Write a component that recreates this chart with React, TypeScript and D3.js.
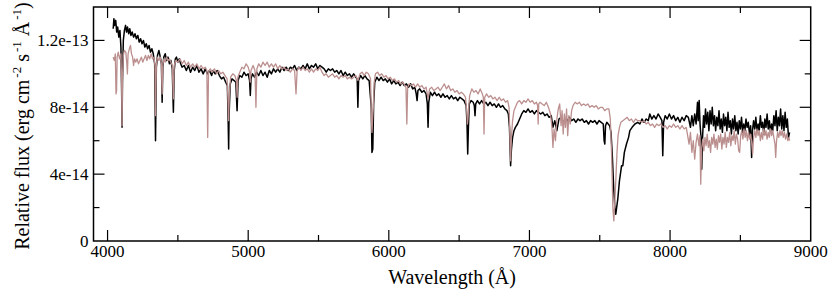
import React, { useEffect, useRef } from "react";
import * as d3 from "d3";

// flux in units of 1e-14 erg cm^-2 s^-1 A^-1
const blackSpec: [number, number][] = [
  [4040, 12.7], [4045, 13.3], [4050, 12.9], [4058, 13.2], [4065, 12.5], [4072, 12.8], [4080, 12.2], [4088, 12.6],
  [4095, 11.6], [4100, 9.0], [4103, 6.8], [4106, 9.5], [4112, 12.0], [4120, 12.6], [4128, 12.9], [4135, 12.5],
  [4142, 12.8], [4150, 12.4], [4158, 12.7], [4166, 12.3], [4175, 12.5], [4185, 12.2], [4195, 12.4], [4205, 12.1],
  [4215, 12.3], [4225, 11.9], [4235, 12.1], [4245, 11.8], [4255, 12.0], [4265, 11.6], [4275, 11.8], [4285, 11.5],
  [4295, 11.7], [4305, 11.3], [4315, 11.5], [4325, 11.2], [4335, 10.6], [4341, 6.0], [4347, 10.4], [4355, 11.1],
  [4365, 11.4], [4375, 11.0], [4383, 10.6], [4388, 8.3], [4393, 10.4], [4400, 11.0], [4410, 11.2], [4420, 10.8],
  [4430, 11.0], [4440, 10.6], [4450, 10.8], [4460, 10.3], [4468, 7.7], [4474, 10.2], [4482, 10.9], [4490, 11.0],
  [4500, 10.7], [4510, 10.9], [4520, 10.6], [4530, 10.4], [4545, 10.5], [4560, 10.2], [4575, 10.5], [4590, 10.1],
  [4605, 10.4], [4620, 10.2], [4635, 10.5], [4650, 10.1], [4665, 10.3], [4680, 10.0], [4695, 10.3], [4710, 10.0],
  [4725, 10.2], [4740, 9.9], [4750, 10.2], [4765, 10.0], [4780, 10.2], [4795, 9.9], [4810, 9.7], [4825, 9.8],
  [4840, 9.5], [4852, 9.3], [4858, 7.0], [4861, 5.5], [4864, 7.5], [4872, 9.4], [4885, 9.7], [4900, 9.6],
  [4912, 9.5], [4921, 7.8], [4928, 9.6], [4940, 9.9], [4955, 9.8], [4970, 10.1], [4985, 9.9], [5000, 10.0],
  [5010, 9.6], [5015, 8.7], [5020, 9.7], [5030, 10.0], [5045, 9.8], [5060, 10.1], [5075, 9.9], [5090, 10.2],
  [5105, 9.9], [5120, 10.1], [5135, 9.8], [5150, 10.2], [5165, 10.0], [5180, 10.3], [5195, 10.1], [5210, 10.3],
  [5225, 10.1], [5240, 10.4], [5255, 10.2], [5270, 10.4], [5285, 10.2], [5300, 10.4], [5315, 10.3], [5330, 10.5],
  [5345, 10.2], [5360, 10.4], [5375, 10.3], [5390, 10.5], [5405, 10.3], [5420, 10.6], [5435, 10.3], [5450, 10.5],
  [5465, 10.4], [5480, 10.6], [5495, 10.3], [5510, 10.5], [5525, 10.4], [5540, 10.3], [5555, 10.1], [5570, 10.3],
  [5585, 10.2], [5600, 10.3], [5615, 10.1], [5630, 10.2], [5645, 10.0], [5660, 10.2], [5675, 9.9], [5690, 10.1],
  [5705, 9.9], [5720, 10.0], [5735, 9.8], [5750, 10.0], [5765, 9.8], [5775, 9.7], [5780, 8.0], [5785, 9.6],
  [5800, 9.9], [5815, 9.7], [5830, 9.9], [5845, 9.7], [5860, 9.6], [5875, 8.0], [5880, 5.3], [5886, 5.5],
  [5892, 8.2], [5900, 9.5], [5915, 9.8], [5930, 9.6], [5945, 9.8], [5960, 9.6], [5975, 9.7], [5990, 9.5],
  [6005, 9.7], [6020, 9.4], [6035, 9.6], [6050, 9.4], [6065, 9.5], [6080, 9.3], [6095, 9.5], [6110, 9.3],
  [6125, 9.4], [6140, 9.2], [6155, 9.4], [6170, 9.1], [6185, 9.2], [6195, 8.8], [6201, 8.4], [6207, 9.0],
  [6220, 9.1], [6235, 8.9], [6250, 9.0], [6265, 8.8], [6274, 8.2], [6279, 6.8], [6284, 8.3], [6295, 8.9],
  [6310, 8.7], [6325, 8.9], [6340, 8.7], [6355, 8.8], [6370, 8.6], [6385, 8.8], [6400, 8.6], [6415, 8.7],
  [6430, 8.5], [6445, 8.7], [6460, 8.5], [6475, 8.6], [6490, 8.4], [6505, 8.6], [6520, 8.5], [6535, 8.4],
  [6550, 8.1], [6556, 7.0], [6561, 5.2], [6566, 6.8], [6572, 8.2], [6585, 8.4], [6600, 8.3], [6608, 8.1],
  [6613, 7.5], [6618, 8.2], [6630, 8.4], [6645, 8.2], [6660, 8.4], [6675, 8.2], [6690, 8.3], [6705, 8.1],
  [6720, 8.3], [6735, 8.1], [6750, 8.2], [6765, 8.0], [6780, 8.2], [6795, 8.0], [6810, 8.1], [6825, 7.9],
  [6840, 7.8], [6850, 7.6], [6858, 6.8], [6866, 4.5], [6872, 5.5], [6880, 6.2], [6890, 6.6], [6900, 6.8],
  [6915, 7.0], [6930, 7.3], [6945, 7.6], [6960, 7.8], [6975, 7.7], [6990, 7.9], [7005, 7.7], [7020, 7.8],
  [7035, 7.6], [7050, 7.8], [7065, 7.7], [7080, 7.6], [7095, 7.7], [7110, 7.5], [7125, 7.6], [7140, 7.4],
  [7155, 7.5], [7167, 6.8], [7180, 7.2], [7195, 6.6], [7210, 7.3], [7225, 7.4], [7240, 7.1], [7255, 7.3],
  [7270, 7.2], [7285, 7.4], [7300, 7.2], [7315, 7.3], [7330, 7.1], [7345, 7.3], [7360, 7.2], [7375, 7.3],
  [7390, 7.1], [7405, 7.2], [7420, 7.0], [7435, 7.2], [7450, 7.1], [7465, 7.2], [7480, 7.0], [7495, 7.2],
  [7510, 7.1], [7525, 7.0], [7531, 6.0], [7536, 5.8], [7541, 6.9], [7550, 7.1], [7560, 7.0], [7570, 6.9],
  [7580, 6.5], [7590, 5.0], [7600, 3.0], [7608, 1.9], [7614, 1.6], [7620, 2.0], [7628, 2.5], [7640, 3.6],
  [7655, 4.5], [7664, 4.5], [7675, 5.3], [7690, 5.8], [7705, 6.2], [7714, 6.6], [7730, 6.8], [7750, 7.0],
  [7770, 7.1], [7785, 7.0], [7800, 7.3], [7815, 7.1], [7830, 7.3], [7845, 7.2], [7856, 7.6], [7870, 7.3],
  [7885, 7.5], [7900, 7.3], [7915, 7.6], [7930, 7.4], [7942, 7.2], [7948, 5.1], [7954, 7.1], [7965, 7.5],
  [7980, 7.3], [7995, 7.6], [8010, 7.3], [8025, 7.5], [8040, 7.2], [8055, 7.4], [8070, 7.1], [8085, 7.4],
  [8100, 7.2], [8115, 7.5], [8130, 7.4], [8145, 6.8], [8155, 7.5], [8165, 6.9], [8175, 7.6], [8185, 7.0],
  [8195, 8.3], [8200, 7.2], [8207, 8.4], [8213, 7.0], [8220, 6.2], [8225, 4.3], [8230, 6.0], [8238, 7.5],
  [8245, 6.8], [8252, 7.9], [8260, 7.0], [8268, 7.7], [8276, 6.6], [8284, 7.8], [8292, 7.0], [8300, 8.0],
  [8308, 6.9], [8316, 7.5], [8324, 6.6], [8332, 7.4], [8340, 6.9], [8348, 7.8], [8356, 6.7], [8364, 7.3],
  [8372, 6.5], [8380, 7.6], [8388, 6.9], [8396, 7.4], [8404, 6.6], [8412, 7.7], [8420, 6.8], [8428, 7.2],
  [8436, 6.4], [8444, 7.3], [8452, 6.7], [8460, 7.5], [8468, 6.6], [8476, 7.1], [8484, 6.4], [8492, 7.2],
  [8500, 6.7], [8508, 7.4], [8516, 6.5], [8524, 7.0], [8532, 6.6], [8540, 7.3], [8548, 6.8], [8556, 7.1],
  [8566, 6.3], [8573, 6.9], [8580, 5.0], [8586, 6.6], [8594, 7.2], [8602, 6.7], [8610, 7.4], [8618, 6.5],
  [8626, 7.0], [8634, 6.6], [8642, 7.5], [8650, 6.8], [8658, 7.1], [8666, 6.4], [8674, 7.3], [8682, 6.8],
  [8690, 7.6], [8698, 6.7], [8706, 7.2], [8714, 6.5], [8722, 7.0], [8730, 6.6], [8738, 7.5], [8746, 6.9],
  [8754, 7.8], [8762, 6.6], [8770, 7.4], [8778, 6.9], [8786, 7.9], [8794, 6.7], [8802, 7.5], [8810, 6.6],
  [8818, 7.7], [8826, 6.8], [8834, 7.3], [8842, 6.2], [8850, 6.5],
];

const pinkSpec: [number, number][] = [
  [4040, 11.0], [4048, 10.8], [4055, 11.2], [4060, 8.8], [4064, 9.0], [4068, 11.0], [4076, 11.3], [4085, 10.9],
  [4095, 11.2], [4100, 9.5], [4103, 6.9], [4106, 9.8], [4112, 11.1], [4120, 11.4], [4130, 11.3], [4137, 10.6],
  [4141, 10.0], [4146, 11.2], [4155, 11.5], [4163, 11.7], [4170, 11.2], [4178, 11.0], [4185, 10.5], [4192, 10.9],
  [4200, 10.7], [4210, 10.9], [4220, 10.6], [4230, 10.8], [4240, 11.0], [4250, 10.7], [4260, 10.9], [4270, 11.1],
  [4280, 10.8], [4290, 11.1], [4300, 10.9], [4310, 11.2], [4320, 10.9], [4330, 11.0], [4337, 10.5], [4341, 7.5],
  [4347, 10.6], [4355, 11.0], [4365, 10.8], [4375, 11.0], [4383, 10.6], [4388, 8.8], [4393, 10.5], [4400, 10.9],
  [4410, 10.7], [4420, 11.0], [4430, 10.8], [4440, 10.9], [4450, 10.7], [4460, 10.5], [4468, 8.5], [4474, 10.5],
  [4485, 10.8], [4500, 10.7], [4515, 10.9], [4530, 10.6], [4545, 10.8], [4560, 10.5], [4575, 10.7], [4590, 10.4],
  [4605, 10.6], [4620, 10.4], [4635, 10.6], [4650, 10.3], [4665, 10.5], [4680, 10.3], [4695, 10.4], [4706, 10.2],
  [4712, 6.2], [4718, 10.1], [4730, 10.3], [4745, 10.1], [4760, 10.3], [4775, 10.0], [4790, 10.2], [4805, 10.0],
  [4820, 10.1], [4835, 9.9], [4850, 9.7], [4856, 8.5], [4861, 7.2], [4866, 8.8], [4875, 9.8], [4890, 10.0],
  [4905, 9.9], [4916, 9.6], [4921, 8.6], [4926, 9.8], [4940, 10.1], [4955, 10.4], [4970, 10.3], [4985, 10.6],
  [5000, 10.4], [5010, 10.1], [5015, 9.5], [5020, 10.2], [5035, 10.5], [5048, 10.2], [5055, 8.0], [5062, 10.3],
  [5075, 10.6], [5090, 10.4], [5105, 10.7], [5120, 10.5], [5135, 10.7], [5150, 10.4], [5165, 10.6], [5180, 10.4],
  [5195, 10.6], [5210, 10.3], [5225, 10.5], [5240, 10.3], [5255, 10.4], [5270, 10.2], [5285, 10.3], [5300, 10.1],
  [5315, 10.3], [5330, 10.2], [5340, 8.8], [5348, 10.2], [5360, 10.4], [5375, 10.2], [5390, 10.4], [5405, 10.2],
  [5420, 10.3], [5435, 10.1], [5450, 10.3], [5465, 10.1], [5480, 10.3], [5495, 10.2], [5510, 10.4], [5525, 10.1],
  [5540, 9.9], [5555, 10.0], [5570, 9.8], [5585, 9.9], [5600, 10.0], [5615, 9.8], [5630, 9.9], [5645, 9.7],
  [5660, 9.9], [5675, 9.8], [5690, 9.9], [5705, 9.7], [5720, 9.8], [5735, 9.7], [5750, 9.8], [5765, 9.9],
  [5780, 9.6], [5795, 10.0], [5810, 10.1], [5825, 9.9], [5840, 10.1], [5855, 10.0], [5870, 9.7], [5876, 7.5],
  [5880, 6.5], [5884, 7.2], [5890, 8.0], [5896, 9.5], [5905, 10.0], [5920, 10.1], [5935, 9.9], [5950, 10.0],
  [5965, 9.8], [5980, 9.9], [5995, 9.7], [6010, 9.8], [6025, 9.6], [6040, 9.7], [6055, 9.5], [6070, 9.6],
  [6085, 9.4], [6100, 9.5], [6115, 9.3], [6122, 9.2], [6128, 7.0], [6134, 9.2], [6145, 9.4], [6160, 9.3],
  [6175, 9.4], [6190, 9.2], [6205, 9.4], [6220, 9.2], [6235, 9.3], [6250, 9.1], [6265, 9.2], [6279, 8.5],
  [6290, 9.1], [6305, 9.2], [6320, 9.0], [6335, 9.1], [6350, 9.2], [6365, 9.0], [6380, 9.2], [6395, 9.4],
  [6410, 9.1], [6425, 9.3], [6440, 9.0], [6455, 9.1], [6470, 8.9], [6485, 9.0], [6500, 8.8], [6515, 8.9],
  [6530, 8.8], [6545, 8.6], [6552, 8.0], [6559, 7.0], [6563, 7.3], [6568, 8.0], [6575, 8.7], [6590, 9.1],
  [6605, 8.9], [6620, 9.0], [6635, 8.8], [6650, 9.1], [6665, 8.8], [6672, 8.6], [6677, 6.4], [6682, 8.6],
  [6695, 8.8], [6710, 8.6], [6725, 8.7], [6740, 8.5], [6755, 8.6], [6770, 8.4], [6785, 8.6], [6800, 8.4],
  [6815, 8.5], [6830, 8.3], [6845, 8.4], [6855, 8.0], [6862, 6.0], [6866, 4.8], [6872, 6.2], [6880, 7.2],
  [6890, 7.8], [6900, 8.0], [6915, 8.3], [6930, 8.4], [6945, 8.2], [6960, 8.4], [6975, 8.3], [6990, 8.5],
  [7005, 8.3], [7020, 8.4], [7035, 8.2], [7050, 8.3], [7058, 8.1], [7062, 7.0], [7066, 8.2], [7075, 8.3],
  [7090, 8.2], [7105, 8.1], [7120, 8.3], [7135, 8.0], [7150, 7.6], [7160, 6.8], [7167, 5.6], [7175, 6.7],
  [7185, 6.0], [7195, 7.3], [7205, 7.9], [7215, 8.2], [7225, 6.9], [7232, 7.8], [7240, 6.4], [7248, 7.6],
  [7256, 6.8], [7264, 7.9], [7272, 6.3], [7280, 7.5], [7290, 7.0], [7300, 7.8], [7310, 8.1], [7325, 8.3],
  [7340, 8.2], [7355, 8.3], [7370, 8.1], [7385, 8.2], [7400, 8.1], [7415, 8.2], [7430, 8.0], [7445, 8.1],
  [7460, 8.0], [7475, 8.1], [7490, 7.9], [7505, 8.0], [7520, 8.0], [7535, 7.8], [7550, 7.9], [7565, 7.9],
  [7575, 7.3], [7585, 5.0], [7593, 2.0], [7600, 1.2], [7606, 2.2], [7614, 3.6], [7622, 5.2], [7630, 6.3],
  [7640, 6.8], [7650, 7.1], [7664, 7.2], [7680, 7.3], [7695, 7.4], [7710, 7.2], [7725, 7.3], [7740, 7.1],
  [7755, 7.3], [7770, 7.2], [7785, 7.2], [7800, 7.1], [7815, 7.2], [7830, 7.0], [7845, 7.1], [7860, 6.9],
  [7875, 7.0], [7890, 6.8], [7905, 7.0], [7920, 6.9], [7935, 7.0], [7950, 6.8], [7965, 6.9], [7980, 6.7],
  [7995, 6.9], [8010, 6.8], [8025, 7.0], [8040, 6.8], [8055, 6.9], [8070, 6.7], [8085, 6.9], [8100, 6.7],
  [8115, 6.8], [8125, 6.3], [8135, 5.8], [8145, 6.5], [8155, 5.3], [8165, 6.0], [8175, 4.9], [8185, 5.9],
  [8195, 6.4], [8205, 5.7], [8212, 6.3], [8218, 3.4], [8224, 5.5], [8232, 6.1], [8240, 5.4], [8248, 6.2],
  [8256, 5.7], [8264, 6.4], [8272, 5.6], [8280, 6.0], [8288, 5.3], [8296, 6.2], [8304, 5.8], [8312, 6.4],
  [8320, 5.6], [8328, 6.1], [8336, 5.5], [8344, 6.3], [8352, 5.9], [8360, 6.4], [8368, 5.5], [8376, 6.2],
  [8384, 5.8], [8392, 6.5], [8400, 5.6], [8408, 6.2], [8416, 5.9], [8424, 6.5], [8432, 5.7], [8440, 6.3],
  [8448, 6.0], [8456, 6.6], [8464, 5.8], [8472, 6.4], [8480, 6.1], [8488, 5.4], [8495, 5.3], [8502, 6.3],
  [8510, 6.6], [8518, 6.1], [8526, 6.7], [8534, 6.2], [8542, 6.6], [8550, 6.0], [8558, 6.5], [8566, 6.1],
  [8574, 6.4], [8580, 5.9], [8587, 5.2], [8594, 6.2], [8602, 6.6], [8610, 6.2], [8618, 6.7], [8626, 6.3],
  [8634, 6.6], [8642, 6.0], [8650, 6.5], [8658, 6.1], [8666, 6.7], [8674, 6.3], [8682, 6.6], [8690, 6.1],
  [8698, 6.5], [8706, 6.2], [8714, 6.7], [8722, 6.3], [8730, 6.6], [8738, 6.2], [8746, 5.8], [8751, 5.0],
  [8757, 6.0], [8765, 6.5], [8773, 6.2], [8781, 6.6], [8789, 6.3], [8797, 6.6], [8805, 6.2], [8813, 6.5],
  [8821, 6.1], [8829, 6.4], [8837, 6.0], [8845, 6.2], [8850, 6.0],
];

const xMajorTicks = [4000, 5000, 6000, 7000, 8000, 9000];
const xMinorTicks = [4500, 5500, 6500, 7500, 8500];
const yMajorTicks = [0, 4, 8, 12];
const yMinorTicks = [2, 6, 10];
const yTickLabels = ["0", "4e-14", "8e-14", "1.2e-13"];

const W = 830;
const H = 291;

export default function App() {
  const svgRef = useRef<SVGSVGElement>(null);

  useEffect(() => {
    const margin = { top: 7, right: 19.3, bottom: 50, left: 93.5 };
    const x0 = margin.left, x1 = W - margin.right;
    const y0 = H - margin.bottom, y1 = margin.top;
    const font = "'Liberation Serif', 'Times New Roman', serif";

    const svg = d3.select(svgRef.current);
    svg.selectAll("*").remove();

    const x = d3.scaleLinear().domain([3900, 9000]).range([x0, x1]);
    const y = d3.scaleLinear().domain([0, 14]).range([y0, y1]);

    const line = d3.line<[number, number]>()
      .x(d => x(d[0]))
      .y(d => y(d[1]));

    svg.append("path")
      .datum(blackSpec)
      .attr("d", line)
      .attr("fill", "none")
      .attr("stroke", "#000")
      .attr("stroke-width", 1.5)
      .attr("stroke-linejoin", "round");

    svg.append("path")
      .datum(pinkSpec)
      .attr("d", line)
      .attr("fill", "none")
      .attr("stroke", "#bc8f8f")
      .attr("stroke-width", 1.3)
      .attr("stroke-linejoin", "round");

    // frame
    svg.append("rect")
      .attr("x", x0).attr("y", y1)
      .attr("width", x1 - x0).attr("height", y0 - y1)
      .attr("fill", "none").attr("stroke", "#000").attr("stroke-width", 1.5);

    const ticks = svg.append("g").attr("stroke", "#000").attr("stroke-width", 1.2);
    const addX = (vals: number[], len: number) => {
      vals.forEach(v => {
        ticks.append("line").attr("x1", x(v)).attr("x2", x(v)).attr("y1", y0).attr("y2", y0 - len);
        ticks.append("line").attr("x1", x(v)).attr("x2", x(v)).attr("y1", y1).attr("y2", y1 + len);
      });
    };
    const addY = (vals: number[], len: number) => {
      vals.forEach(v => {
        ticks.append("line").attr("y1", y(v)).attr("y2", y(v)).attr("x1", x0).attr("x2", x0 + len);
        ticks.append("line").attr("y1", y(v)).attr("y2", y(v)).attr("x1", x1).attr("x2", x1 - len);
      });
    };
    addX(xMajorTicks.filter(v => v < 9000), 11);
    addX(xMinorTicks, 6);
    addY(yMajorTicks.filter(v => v > 0), 11);
    addY(yMinorTicks, 6);

    svg.append("g")
      .selectAll("text")
      .data(xMajorTicks)
      .join("text")
      .attr("x", d => x(d))
      .attr("y", y0 + 16)
      .attr("text-anchor", "middle")
      .style("font-family", font)
      .style("font-size", "17px")
      .text(d => d);

    svg.append("g")
      .selectAll("text")
      .data(yMajorTicks)
      .join("text")
      .attr("x", x0 - 5)
      .attr("y", d => y(d) + 6)
      .attr("text-anchor", "end")
      .style("font-family", font)
      .style("font-size", "17px")
      .text((d, i) => yTickLabels[i]);

    svg.append("text")
      .attr("x", (x0 + x1) / 2)
      .attr("y", 284)
      .attr("text-anchor", "middle")
      .style("font-family", font)
      .style("font-size", "20px")
      .text("Wavelength (Å)");

    const yt = svg.append("text")
      .attr("transform", `translate(29,${(y0 + y1) / 2 + 2}) rotate(-90)`)
      .attr("text-anchor", "middle")
      .style("font-family", font)
      .style("font-size", "20px");
    yt.append("tspan").text("Relative flux (erg cm");
    yt.append("tspan").attr("dy", -8).attr("dx", 2).style("font-size", "13px").text("-2");
    yt.append("tspan").attr("dy", 8).text(" s");
    yt.append("tspan").attr("dy", -8).attr("dx", 2).style("font-size", "13px").text("-1");
    yt.append("tspan").attr("dy", 8).text(" Å");
    yt.append("tspan").attr("dy", -8).attr("dx", 2).style("font-size", "13px").text("-1");
    yt.append("tspan").attr("dy", 8).text(")");
  }, []);

  return (
    <svg
      ref={svgRef}
      width={W}
      height={H}
      style={{ position: "absolute", left: 0, top: 0, background: "#fff" }}
    />
  );
}
